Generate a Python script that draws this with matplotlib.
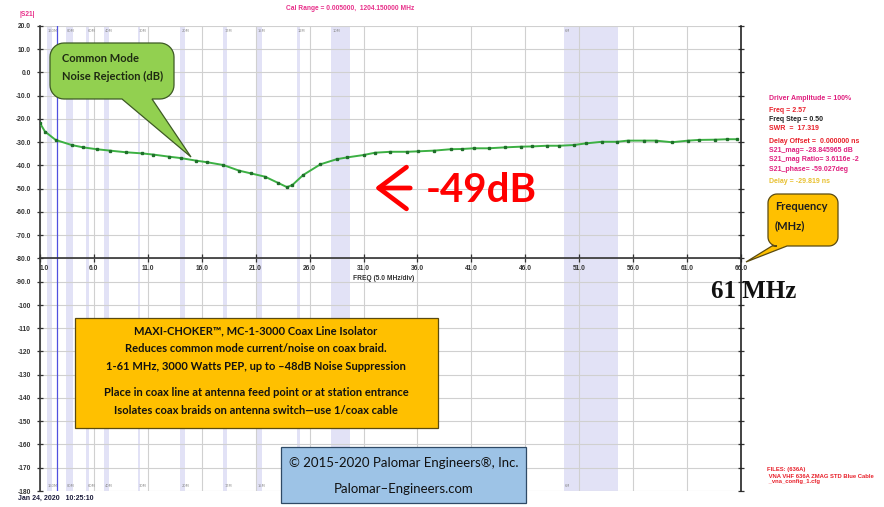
import numpy as np
import matplotlib
matplotlib.use("Agg")
import matplotlib.pyplot as plt
from matplotlib.patches import Polygon, Rectangle, FancyArrowPatch

# S21 magnitude trace
freq = [1.0, 1.46, 2.45, 3.94, 5.0, 6.26, 7.49, 8.94, 10.49, 11.5, 12.96, 14.04,
        15.46, 16.5, 18.0, 19.45, 20.56, 21.86, 23.04, 23.9, 24.4, 25.4, 27.0,
        28.5, 29.5, 31.0, 32.06, 33.5, 35.06, 36.08, 37.56, 39.08, 40.1, 41.2,
        42.6, 44.1, 45.6, 46.6, 48.0, 49.15, 50.5, 51.6, 53.1, 54.5, 55.5, 57.0,
        58.1, 59.6, 61.1, 62.1, 63.6, 64.7, 65.6]
s21 = [-21.8, -25.4, -29.0, -31.2, -32.2, -33.0, -33.6, -34.3, -34.8, -35.3,
       -36.2, -36.8, -37.9, -38.6, -39.8, -42.2, -43.4, -44.8, -47.4, -49.3,
       -48.4, -44.1, -39.5, -37.3, -36.5, -35.5, -34.5, -34.1, -34.1, -33.9,
       -33.6, -33.0, -32.9, -32.6, -32.6, -32.2, -31.9, -31.8, -31.5, -31.5,
       -31.2, -30.5, -29.8, -29.8, -29.3, -29.3, -29.3, -30.0, -29.3, -29.0,
       -28.9, -28.7, -28.7]

# ham bands (MHz) shaded on the sweep
band_names = ["160M", "80M", "60M", "40M", "30M", "20M", "17M", "15M", "12M", "10M", "6M"]
band_lo = [1.65, 3.4, 5.3, 6.9, 10.1, 14.0, 18.0, 21.1, 24.8, 28.0, 49.6]
band_hi = [2.1, 4.1, 5.5, 7.4, 10.3, 14.4, 18.3, 21.6, 25.1, 29.7, 54.6]
# bottom labels of 12M/10M sit under the copyright box
band_bottom_label = [True, True, True, True, True, True, True, True, False, False, True]

xticks = [1, 6, 11, 16, 21, 26, 31, 36, 41, 46, 51, 56, 61, 66]
xticklabels = ["1.0", "6.0", "11.0", "16.0", "21.0", "26.0", "31.0", "36.0",
               "41.0", "46.0", "51.0", "56.0", "61.0", "66.0"]
yticks = list(range(20, -190, -10))
yticklabels = ["20.0", "10.0", "0.0", "-10.0", "-20.0", "-30.0", "-40.0", "-50.0",
               "-60.0", "-70.0", "-80.0", "-90.0", "-100", "-110", "-120", "-130",
               "-140", "-150", "-160", "-170", "-180"]
marker_freq = 2.57

panel = [("Driver Amplitude = 100%", "#e0207f"),
         (None, None),
         ("Freq = 2.57", "#e8202a"),
         ("Freq Step = 0.50", "#202020"),
         ("SWR  =  17.319", "#e8202a"),
         (None, None),
         ("Delay Offset =  0.000000 ns", "#e8202a"),
         ("S21_mag= -28.845965 dB", "#e0207f"),
         ("S21_mag Ratio= 3.6116e -2", "#e0207f"),
         ("S21_phase= -59.027deg", "#e0207f"),
         (None, None),
         ("Delay = -29.819 ns", "#e8c030")]

maxi_lines = ["MAXI-CHOKER\u2122, MC-1-3000 Coax Line Isolator",
              "Reduces common mode current/noise on coax braid.",
              "1-61 MHz, 3000 Watts PEP, up to \u201348dB Noise Suppression",
              "Place in coax line at antenna feed point or at station entrance",
              "Isolates coax braids on antenna switch\u2014use 1/coax cable"]

W, H = 884, 507
fig = plt.figure(figsize=(W / 100, H / 100), dpi=100)


def fx(x):
    return x / W


def fy(y):
    return 1 - y / H


def ftext(x, y, s, **kw):
    return fig.text(fx(x), fy(y), s, **kw)


def callout(x0, y0, x1, y1, r, tail, fc, ec):
    # rounded box in pixel coords (y down) with a tail on the bottom edge
    pts = []
    for cx, cy, a0, a1 in [(x1 - r, y0 + r, -90, 0), (x1 - r, y1 - r, 0, 90)]:
        for a in np.radians(np.linspace(a0, a1, 10)):
            pts.append((cx + r * np.cos(a), cy + r * np.sin(a)))
    xa, xb, tx, ty = tail
    pts += [(xb, y1), (tx, ty), (xa, y1)]
    for cx, cy, a0, a1 in [(x0 + r, y1 - r, 90, 180), (x0 + r, y0 + r, 180, 270)]:
        for a in np.radians(np.linspace(a0, a1, 10)):
            pts.append((cx + r * np.cos(a), cy + r * np.sin(a)))
    verts = [(fx(px), fy(py)) for px, py in pts]
    fig.patches.append(Polygon(verts, closed=True, transform=fig.transFigure,
                               fc=fc, ec=ec, lw=0.9, zorder=2))


ax = fig.add_axes([fx(40), fy(491), (741 - 40) / W, (491 - 26) / H])
ax.set_xlim(1, 66)
ax.set_ylim(-180, 20)

for name, lo, hi, bot in zip(band_names, band_lo, band_hi, band_bottom_label):
    ax.axvspan(lo, hi, color="#e2e2f6", lw=0, zorder=0)
    ax.text(lo + 0.1, 18.5, name, fontsize=2.6, color="#8a8a8a", va="top")
    if bot:
        ax.text(lo + 0.1, -178.5, name, fontsize=2.6, color="#8a8a8a", va="bottom")

ax.set_xticks(xticks)
ax.set_xticklabels(xticklabels)
ax.set_yticks(yticks)
ax.set_yticklabels(yticklabels)
ax.grid(color="#d0d0d0", lw=0.8, zorder=0.5)
ax.set_axisbelow(True)

ax.spines["top"].set_visible(False)
ax.spines["left"].set_color("#333333")
ax.spines["left"].set_linewidth(1.2)
ax.spines["right"].set_color("#222222")
ax.spines["right"].set_linewidth(1.2)
ax.spines["bottom"].set_position(("data", -80))
ax.spines["bottom"].set_color("#333333")
ax.spines["bottom"].set_linewidth(1.2)

ax.tick_params(axis="x", direction="inout", length=6, width=0.9,
               labelsize=4.8, pad=2, colors="#333333")
ax.tick_params(axis="y", direction="inout", length=5, width=0.9, right=True,
               labelsize=4.8, pad=4, colors="#333333")
for lab in ax.get_xticklabels() + ax.get_yticklabels():
    lab.set_fontweight("bold")
    lab.set_family("Liberation Sans")
ax.get_xticklabels()[0].set_ha("left")

ax.axvline(marker_freq, color="#5050e0", lw=0.9, zorder=1)
ax.plot(freq, s21, color="#3cb043", lw=1.4, marker="s", ms=2.0,
        mfc="#1f6f2a", mec="#1f6f2a", zorder=3)

ax.text(32.9, -88.5, "FREQ (5.0 MHz/div)", fontsize=4.8, fontweight="bold",
        family="Liberation Sans", color="#333333", ha="center", va="center")

small = dict(family="Liberation Sans", fontweight="bold")
ftext(19, 15, "|S21|", fontsize=4.8, color="#e8308a", va="center", **small)
ftext(350, 9, "Cal Range = 0.005000,  1204.150000 MHz", fontsize=4.8,
      color="#e8308a", ha="center", va="center", **small)
ftext(18, 498, "Jan 24, 2020   10:25:10", fontsize=5, color="#1a1a3a",
      va="center", **small)
ftext(767, 470, "FILES: (636A)", fontsize=4.2, color="#e8202a", va="center", **small)
ftext(767, 476, " VNA VHF 636A ZMAG STD Blue Cable", fontsize=4.2,
      color="#e8202a", va="center", **small)
ftext(767, 482, " _vna_config_1.cfg", fontsize=4.2, color="#e8202a",
      va="center", **small)

y = 98
for s, c in panel:
    if s is not None:
        ftext(769, y, s, fontsize=5, color=c, va="center", **small)
    y += 9.3 if s is not None else 3

# green callout
callout(50, 43, 174, 99, 14, (122, 152, 191, 157), "#92d050", "#3d5a24")
ftext(62, 58, "Common Mode", fontsize=8, family="Lato", fontweight="bold",
      color="#1e2a12", va="center")
ftext(62, 76, "Noise Rejection (dB)", fontsize=8, family="Lato",
      fontweight="bold", color="#1e2a12", va="center")

# orange frequency callout
callout(768, 194, 838, 246, 9, (772, 787, 746, 262), "#ffc000", "#5a4a10")
ftext(775, 207, "Frequency", fontsize=8, family="Lato", fontweight="bold",
      color="#1e1e1e", va="center")
ftext(775, 226, "(MHz)", fontsize=8, family="Lato", fontweight="bold",
      color="#1e1e1e", va="center")

# -49 dB marker
fig.patches.append(FancyArrowPatch((fx(413), fy(188)), (fx(372), fy(188)),
                                   transform=fig.transFigure,
                                   arrowstyle="->,head_length=20,head_width=15",
                                   mutation_scale=1, color="#ff0000", lw=3.4,
                                   zorder=3))
ftext(426, 190, "-49dB", fontsize=29, family="Lato", fontweight="bold",
      color="#ff0000", va="center")

ftext(711, 292, "61 MHz", fontsize=18, family="Liberation Serif",
      fontweight="bold", color="#111111", va="center")

# product box
fig.patches.append(Rectangle((fx(75), fy(428)), (438 - 75) / W, (428 - 318) / H,
                             transform=fig.transFigure, fc="#ffc000",
                             ec="#5a4a10", lw=0.9, zorder=2))
for s, yy in zip(maxi_lines, [331, 349, 367, 392, 410]):
    ftext(256, yy, s, fontsize=8, family="Lato", fontweight="bold",
          color="#111111", ha="center", va="center")

# copyright box
fig.patches.append(Rectangle((fx(281), fy(503)), (526 - 281) / W, (503 - 447) / H,
                             transform=fig.transFigure, fc="#9dc3e6",
                             ec="#2f4a66", lw=0.9, zorder=2))
ftext(404, 463, "\u00a9 2015-2020 Palomar Engineers\u00ae, Inc.", fontsize=9.5,
      family="Lato", color="#111111", ha="center", va="center")
ftext(404, 489, "Palomar\u2013Engineers.com", fontsize=9.5, family="Lato",
      color="#111111", ha="center", va="center")

fig.savefig("out.png", dpi=100)
